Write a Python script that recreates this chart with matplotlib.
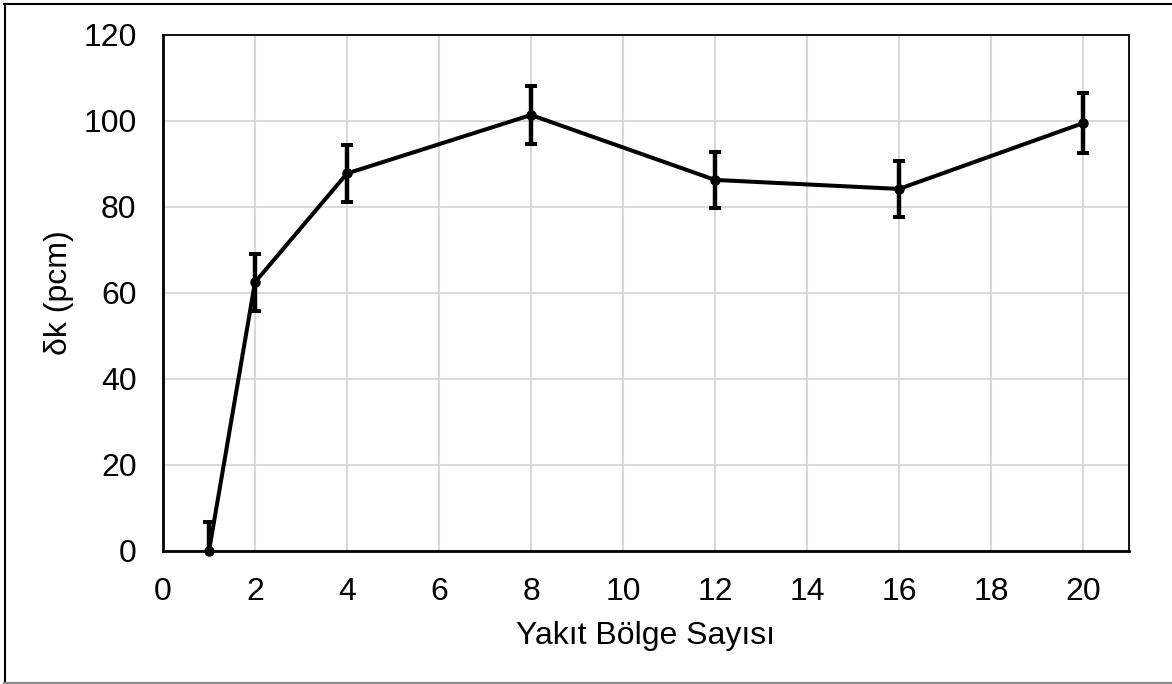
import matplotlib
matplotlib.use("Agg")
import matplotlib.pyplot as plt
from matplotlib.lines import Line2D

x_vals = [1, 2, 4, 8, 12, 16, 20]
dk_vals = [0.0, 62.5, 87.8, 101.4, 86.3, 84.2, 99.5]
err_vals = [6.7, 6.6, 6.7, 6.7, 6.6, 6.6, 6.9]
x_ticks = [0, 2, 4, 6, 8, 10, 12, 14, 16, 18, 20]
y_ticks = [0, 20, 40, 60, 80, 100, 120]

plt.rcParams['font.family'] = ['Liberation Sans', 'DejaVu Sans']
fig = plt.figure(figsize=(11.72, 6.84), dpi=100)
W, H = 1172, 684
ax = fig.add_axes([163 / W, 1 - 551 / H, (1129 - 163) / W, (551 - 35) / H])

ax.errorbar(x_vals, dk_vals, yerr=err_vals, color='black', lw=2.9,
            capsize=4.5, capthick=2.9, elinewidth=3.2, zorder=3)
ax.plot(x_vals, dk_vals, 'o', color='black', markersize=6.5, zorder=4,
        clip_on=False)

ax.set_xlim(0, 21)
ax.set_ylim(0, 120)
ax.set_xticks(x_ticks)
ax.set_yticks(y_ticks)
ax.grid(True, color='#d9d9d9', lw=1.5, zorder=0)
ax.set_axisbelow(True)
ax.tick_params(axis='both', length=0, labelsize=23)
ax.tick_params(axis='x', pad=19)
ax.tick_params(axis='y', pad=19)
for s in ax.spines.values():
    s.set_color('black')
    s.set_linewidth(1.3)
ax.spines['left'].set_linewidth(2)
ax.spines['bottom'].set_linewidth(2)

ax.set_xlabel('Yakıt Bölge Sayısı', fontsize=23, labelpad=10)
ax.set_ylabel('δk (pcm)', fontsize=23, labelpad=7)

# outer frame
fig.add_artist(Line2D([4.5 / W, 4.5 / W], [1 - 4 / H, 1 - 683 / H],
                      transform=fig.transFigure, color='black', lw=1.5))
fig.add_artist(Line2D([4 / W, 1], [1 - 4 / H, 1 - 4 / H],
                      transform=fig.transFigure, color='black', lw=1.5))
fig.add_artist(Line2D([4 / W, 1], [1 - 682.5 / H, 1 - 682.5 / H],
                      transform=fig.transFigure, color='#888888', lw=1.5))

fig.savefig('out.png', dpi=100)
